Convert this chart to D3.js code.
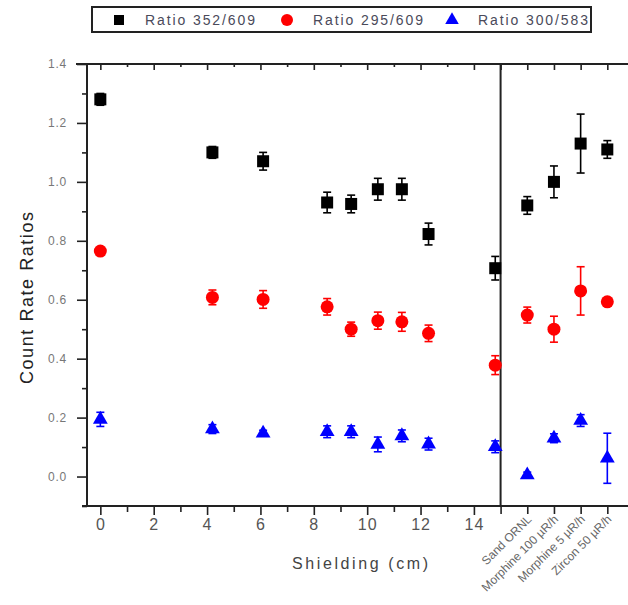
<!DOCTYPE html>
<html lang="en">
<head>
<meta charset="UTF-8">
<title>Count Rate Ratios</title>
<style>
  * { margin: 0; padding: 0; }
  body { background: #fff; width: 628px; height: 605px; overflow: hidden; }
  svg { display: block; font-family: 'Liberation Sans', Arial, sans-serif; }
  .axis path.domain { display: none; }
  .axis line { stroke: #222; stroke-width: 1.6; }
</style>
</head>
<body>
<svg width="628" height="605"></svg>
<script src="https://d3js.org/d3.v7.min.js"></script>
<script>
// shielding thickness, cm (left panel)
const shieldCm = [0, 4.2, 6.1, 8.5, 9.4, 10.4, 11.3, 12.3, 14.8];
// sample sources (right panel), placed at x = 16..19 on the same scale
const samples = ['Sand ORNL', 'Morphine 100 µR/h', 'Morphine 5 µR/h', 'Zircon 50 µR/h'];
const samplePos = [16, 17, 18, 19];

const r352 = [1.28, 1.10, 1.07, 0.93, 0.925, 0.975, 0.975, 0.823, 0.707, 0.92, 1.0, 1.13, 1.11];
const e352 = [0.02, 0.02, 0.03, 0.035, 0.03, 0.037, 0.037, 0.037, 0.04, 0.03, 0.054, 0.1, 0.03];
const r295 = [0.765, 0.608, 0.601, 0.576, 0.50, 0.529, 0.525, 0.486, 0.378, 0.548, 0.50, 0.63, 0.593];
const e295 = [0.01, 0.025, 0.03, 0.028, 0.024, 0.029, 0.032, 0.028, 0.032, 0.027, 0.044, 0.082, 0.01];
const r300 = [0.194, 0.161, 0.147, 0.152, 0.152, 0.109, 0.138, 0.11, 0.101, 0.005, 0.13, 0.19, 0.062];
const e300 = [0.024, 0.015, 0.01, 0.02, 0.02, 0.025, 0.02, 0.02, 0.02, 0.01, 0.015, 0.02, 0.085];

const yMajor = [0, 0.2, 0.4, 0.6, 0.8, 1.0, 1.2, 1.4];
const yMinor = [-0.1, 0.1, 0.3, 0.5, 0.7, 0.9, 1.1, 1.3];
const xMajor = [0, 2, 4, 6, 8, 10, 12, 14];
const xMinor = [1, 3, 5, 7, 9, 11, 13];

const svg = d3.select('svg');
const plotL = 87, plotT = 64, plotB = 506, plotR = 634, divider = 15;

const x = d3.scaleLinear().domain([-0.5, 20]).range([plotL, plotR]);
const y = d3.scaleLinear().domain([-0.1, 1.4]).range([plotB, plotT]);
const xs = shieldCm.concat(samplePos);

// axes
svg.append('g').attr('class', 'axis').attr('transform', `translate(${plotL},0)`)
  .call(d3.axisLeft(y).tickValues(yMajor).tickSize(10).tickFormat(d3.format('.1f')))
  .call(g => g.selectAll('text').attr('fill', '#777').attr('font-size', 12)
    .attr('letter-spacing', 0.8).attr('x', -20));
svg.append('g').attr('class', 'axis').attr('transform', `translate(${plotL},0)`)
  .call(d3.axisLeft(y).tickValues(yMinor).tickSize(5).tickFormat(''));
svg.append('g').attr('class', 'axis').attr('transform', `translate(${plotR},0)`)
  .call(d3.axisLeft(y).tickValues(yMajor.slice(0, 7)).tickSize(-10).tickFormat(''));

svg.append('g').attr('class', 'axis').attr('transform', `translate(0,${plotB})`)
  .call(d3.axisBottom(x).tickValues(xMajor).tickSize(9).tickPadding(4).tickFormat(d3.format('d')))
  .call(g => g.selectAll('text').attr('fill', '#555').attr('font-size', 16).attr('letter-spacing', 1));
svg.append('g').attr('class', 'axis').attr('transform', `translate(0,${plotB})`)
  .call(d3.axisBottom(x).tickValues(xMinor).tickSize(6).tickFormat(''));
svg.append('g').attr('class', 'axis').attr('transform', `translate(0,${plotB})`)
  .call(d3.axisBottom(x).tickValues([divider].concat(samplePos)).tickSize(8).tickFormat(''));

svg.append('g').attr('class', 'axis').attr('transform', `translate(0,${plotT})`)
  .call(d3.axisTop(x).tickValues(xMajor.concat([divider], samplePos)).tickSize(-6).tickFormat(''));
svg.append('g').attr('class', 'axis').attr('transform', `translate(0,${plotT})`)
  .call(d3.axisTop(x).tickValues(xMinor).tickSize(-3).tickFormat(''));

// frame + panel divider
const frame = svg.append('g').attr('stroke', '#222').attr('stroke-width', 2);
frame.append('line').attr('x1', 76).attr('x2', 628).attr('y1', plotT).attr('y2', plotT);
frame.append('line').attr('x1', 82).attr('x2', 628).attr('y1', plotB).attr('y2', plotB);
frame.append('line').attr('x1', plotL).attr('x2', plotL).attr('y1', plotT).attr('y2', plotB);
frame.append('line').attr('x1', x(divider)).attr('x2', x(divider)).attr('y1', plotT).attr('y2', plotB);

// sample labels
svg.append('g').selectAll('text').data(samples).join('text')
  .attr('transform', (d, i) => `translate(${x(samplePos[i]) + 5},${plotB + 14}) rotate(-45)`)
  .attr('text-anchor', 'end').attr('font-size', 12).attr('fill', '#666')
  .text(d => d);

// axis titles
svg.append('text').attr('x', 360).attr('y', 569).attr('text-anchor', 'middle')
  .attr('font-size', 16).attr('fill', '#444').attr('textLength', 136).text('Shielding (cm)');
svg.append('text').attr('transform', 'translate(33,298) rotate(-90)').attr('text-anchor', 'middle')
  .attr('font-size', 18).attr('fill', '#222').attr('textLength', 172).text('Count Rate Ratios');

// series
const series = [
  { name: 'Ratio 352/609', vals: r352, errs: e352, color: '#000', shape: 'square' },
  { name: 'Ratio 295/609', vals: r295, errs: e295, color: '#f00', shape: 'circle' },
  { name: 'Ratio 300/583', vals: r300, errs: e300, color: '#00f', shape: 'triangle' },
];

function marker(sel, shape, color) {
  if (shape === 'square') {
    sel.append('rect').attr('x', -6).attr('y', -6).attr('width', 12).attr('height', 12).attr('fill', color);
  } else if (shape === 'circle') {
    sel.append('circle').attr('r', 6.5).attr('fill', color);
  } else {
    sel.append('path').attr('d', d3.symbol(d3.symbolTriangle, 95)()).attr('fill', color);
  }
}

for (const s of series) {
  const g = svg.append('g');
  const eb = g.append('g').attr('stroke', s.color).attr('stroke-width', 1.6);
  s.vals.forEach((v, i) => {
    const cx = x(xs[i]), y0 = y(v - s.errs[i]), y1 = y(v + s.errs[i]);
    eb.append('line').attr('x1', cx).attr('x2', cx).attr('y1', y0).attr('y2', y1);
    eb.append('line').attr('x1', cx - 4).attr('x2', cx + 4).attr('y1', y0).attr('y2', y0);
    eb.append('line').attr('x1', cx - 4).attr('x2', cx + 4).attr('y1', y1).attr('y2', y1);
  });
  g.selectAll('g.pt').data(s.vals).join('g').attr('class', 'pt')
    .attr('transform', (v, i) => `translate(${x(xs[i])},${y(v)})`)
    .each(function () { marker(d3.select(this), s.shape, s.color); });
}

// legend
const legend = svg.append('g');
legend.append('rect').attr('x', 92).attr('y', 7).attr('width', 499).attr('height', 25)
  .attr('fill', '#fff').attr('stroke', '#222').attr('stroke-width', 2);
const legX = [119, 287, 452];
series.forEach((s, i) => {
  const item = legend.append('g').attr('transform', `translate(${legX[i]},20)`);
  if (s.shape === 'square') {
    item.append('rect').attr('x', -5).attr('y', -5).attr('width', 10).attr('height', 10).attr('fill', s.color);
  } else if (s.shape === 'circle') {
    item.append('circle').attr('r', 6).attr('fill', s.color);
  } else {
    item.append('path').attr('d', d3.symbol(d3.symbolTriangle, 80)()).attr('fill', s.color);
  }
  item.append('text').attr('x', 26).attr('y', 5).attr('font-size', 14).attr('fill', '#4a4a5a')
    .attr('textLength', 110).text(s.name);
});
</script>
</body>
</html>
